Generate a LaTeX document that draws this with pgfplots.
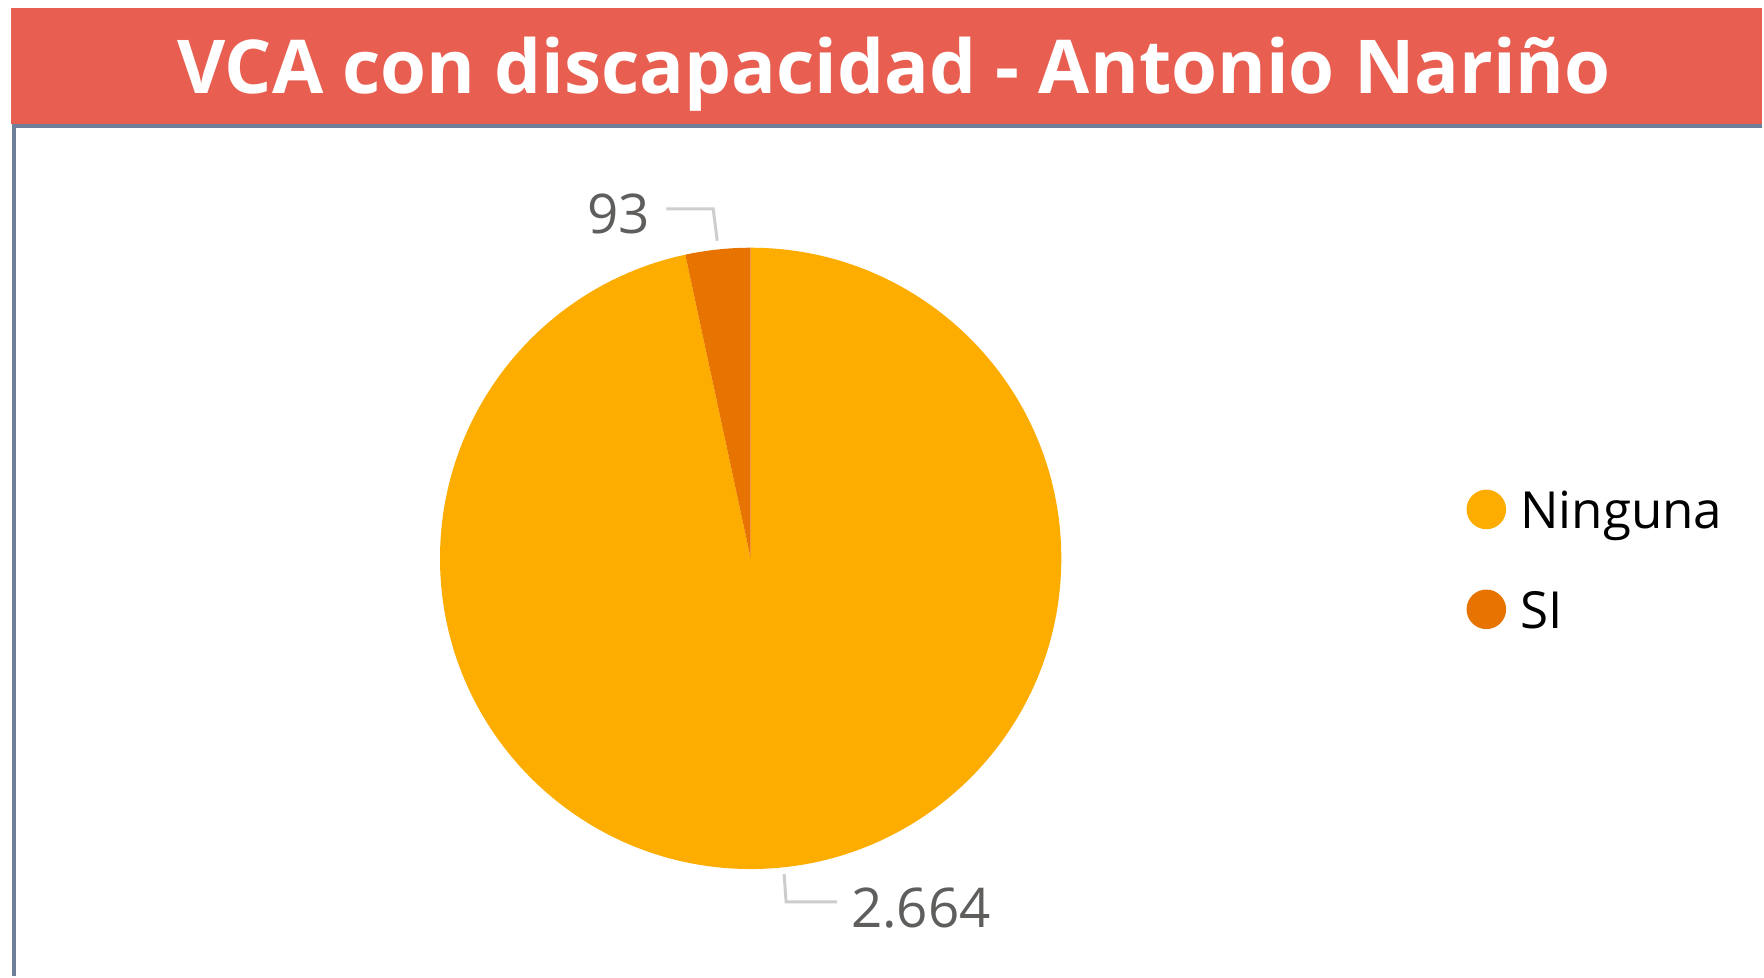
\documentclass[border=0pt]{standalone}
\usepackage{fontspec}
\setmainfont{Open Sans}
\usepackage{pgfplots}
\usepackage{pgfplotstable}
\pgfplotsset{compat=1.18}

\definecolor{titlered}{RGB}{232,94,80}
\definecolor{framecol}{RGB}{110,127,153}
\definecolor{ninguna}{RGB}{253,172,0}
\definecolor{sicol}{RGB}{231,115,0}
\definecolor{lblgray}{RGB}{96,94,92}
\definecolor{leader}{RGB}{205,205,205}

% VCA con discapacidad
\pgfplotstableread{
cat value
Ninguna 2664
SI 93
}\piedata

\begin{document}
\begin{tikzpicture}
\pgfplotstablegetelem{0}{value}\of\piedata \let\vNin\pgfplotsretval
\pgfplotstablegetelem{1}{value}\of\piedata \let\vSi\pgfplotsretval
\pgfmathsetmacro\aNin{360*(\vNin/(\vNin+\vSi))}
\pgfmathsetmacro\aEnd{90-\aNin}
\begin{axis}[
    x=0.25pt, y=0.25pt,
    xmin=0, xmax=1764, ymin=0, ymax=977,
    hide axis, clip=false,
]
% canvas
\path (axis cs:0,0) rectangle (axis cs:1764,977);

% title bar
\fill[titlered] (axis cs:11,853) rectangle (axis cs:1764,969);
\node[white, anchor=base, font=\fontsize{18.6}{19}\selectfont\bfseries]
    at (axis cs:895,883) {VCA con discapacidad - Antonio Nariño};
\draw[framecol, line width=1pt] (axis cs:14.5,0) -- (axis cs:14.5,850.5) -- (axis cs:1764,850.5);

% pie
\fill[ninguna] (axis cs:751.5,418) -- ++(90:77.75pt)
    arc[start angle=90, end angle=\aEnd, radius=77.75pt] -- cycle;
\fill[sicol] (axis cs:751.5,418) -- ++(\aEnd:77.75pt)
    arc[start angle=\aEnd, end angle=-270, radius=77.75pt] -- cycle;

% data labels
\draw[leader, line width=0.75pt] (axis cs:667,768) -- (axis cs:714,768) -- (axis cs:718,736);
\node[lblgray, font=\fontsize{13.7}{14}\selectfont] at (axis cs:619,763) {\vSi};
\draw[leader, line width=0.75pt] (axis cs:785,102) -- (axis cs:787,74) -- (axis cs:838,74);
\node[lblgray, font=\fontsize{13.7}{14}\selectfont] at (axis cs:922,68) {2.664};

% legend
\addplot[only marks, mark=*, mark size=4.75pt, ninguna] coordinates {(1488,467)};
\addplot[only marks, mark=*, mark size=4.75pt, sicol] coordinates {(1488,367)};
\node[anchor=base west, inner sep=0pt, font=\fontsize{12.8}{13}\selectfont] at (axis cs:1521,448) {Ninguna};
\node[anchor=base west, inner sep=0pt, font=\fontsize{12.8}{13}\selectfont] at (axis cs:1521,348) {SI};
\end{axis}
\end{tikzpicture}
\end{document}
